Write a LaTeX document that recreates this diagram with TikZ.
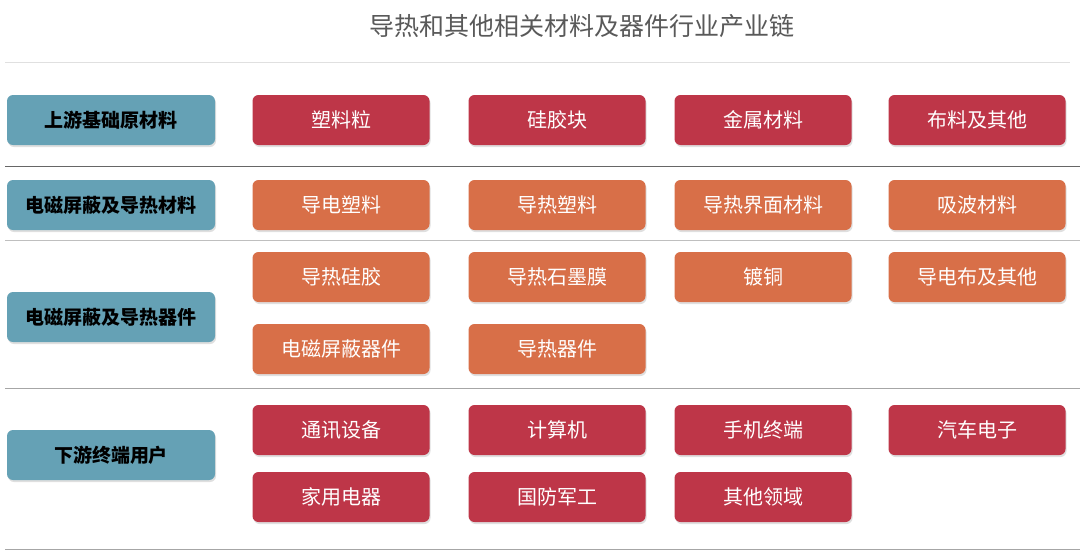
\documentclass[tikz,border=0pt]{standalone}
\usepackage{fontspec}
\setmainfont{Noto Sans CJK SC}
\usetikzlibrary{shadows}
\definecolor{cred}{HTML}{BE3648}
\definecolor{corg}{HTML}{D86F48}
\definecolor{cteal}{HTML}{65A1B5}
\tikzset{
 base/.style={rounded corners=6pt,minimum width=177pt,minimum height=50pt,text=white,font=\fontsize{20}{22}\selectfont,drop shadow={opacity=0.25,shadow xshift=1pt,shadow yshift=-2pt}},
 rbox/.style={base,fill=cred},
 obox/.style={base,fill=corg},
 lbox/.style={base,fill=cteal,minimum width=208pt,text=black,font=\fontsize{19}{22}\selectfont\bfseries},
 sep/.style={line width=0.8pt}
}
\begin{document}
\begin{tikzpicture}[x=1pt,y=-1pt]
\useasboundingbox[fill=white] (0,0) rectangle (1080,552);
\node[text=black!65,font=\fontsize{25}{28}\selectfont] (title) at (582,26) {导热和其他相关材料及器件行业产业链};
\coordinate (a1) at (5,62); \coordinate (a2) at (1070,62);
\draw[sep,black!12] (a1) -- (a2);
\coordinate (b1) at (5,166); \coordinate (b2) at (1080,166);
\draw[sep,black!60] (b1) -- (b2);
\coordinate (c1) at (5,240); \coordinate (c2) at (1080,240);
\draw[sep,black!25] (c1) -- (c2);
\coordinate (d1) at (5,388); \coordinate (d2) at (1080,388);
\draw[sep,black!35] (d1) -- (d2);
\coordinate (e1) at (5,549); \coordinate (e2) at (1080,549);
\draw[sep,black!35] (e1) -- (e2);
\node[lbox] (L1) at (111,120) {上游基础原材料};
\node[lbox] (L2) at (111,205) {电磁屏蔽及导热材料};
\node[lbox] (L3) at (111,317) {电磁屏蔽及导热器件};
\node[lbox] (L4) at (111,455) {下游终端用户};
\node[rbox] (r11) at (341,120) {塑料粒};
\node[rbox] (r12) at (557,120) {硅胶块};
\node[rbox] (r13) at (763,120) {金属材料};
\node[rbox] (r14) at (977,120) {布料及其他};
\node[obox] (r21) at (341,205) {导电塑料};
\node[obox] (r22) at (557,205) {导热塑料};
\node[obox] (r23) at (763,205) {导热界面材料};
\node[obox] (r24) at (977,205) {吸波材料};
\node[obox] (r31) at (341,277) {导热硅胶};
\node[obox] (r32) at (557,277) {导热石墨膜};
\node[obox] (r33) at (763,277) {镀铜};
\node[obox] (r34) at (977,277) {导电布及其他};
\node[obox] (r41) at (341,349) {电磁屏蔽器件};
\node[obox] (r42) at (557,349) {导热器件};
\node[rbox] (r51) at (341,430) {通讯设备};
\node[rbox] (r52) at (557,430) {计算机};
\node[rbox] (r53) at (763,430) {手机终端};
\node[rbox] (r54) at (977,430) {汽车电子};
\node[rbox] (r61) at (341,497) {家用电器};
\node[rbox] (r62) at (557,497) {国防军工};
\node[rbox] (r63) at (763,497) {其他领域};
\end{tikzpicture}
\end{document}
